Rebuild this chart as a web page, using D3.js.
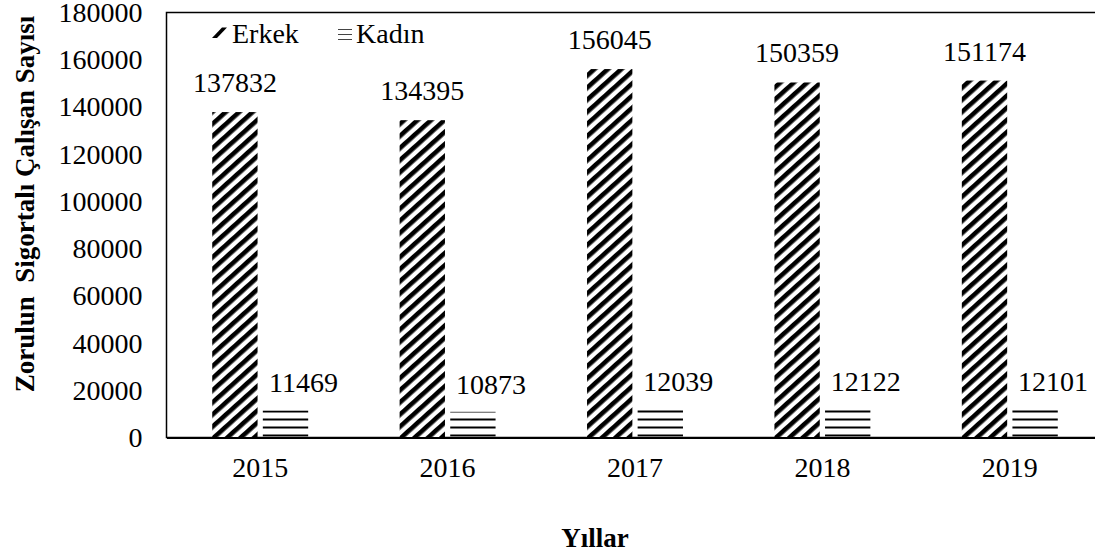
<!DOCTYPE html>
<html>
<head>
<meta charset="utf-8">
<script src="https://cdn.jsdelivr.net/npm/d3@7"></script>
<style>
  body { margin: 0; background: #fff; }
  svg { display: block; }
  text { font-family: "Liberation Serif", "Times New Roman", serif; }
</style>
</head>
<body>
<svg id="chart"></svg>
<script>
const years = ["2015", "2016", "2017", "2018", "2019"];
const erkek = [137832, 134395, 156045, 150359, 151174];
const kadin = [11469, 10873, 12039, 12122, 12101];
const series = ["Erkek", "Kadın"];
const yTicks = [0, 20000, 40000, 60000, 80000, 100000, 120000, 140000, 160000, 180000];

const width = 1095;
const height = 556;
const plotLeft = 166.5, plotRight = 1103.5, plotTop = 12.5, plotBottom = 437.5;
const font = "Liberation Serif";

const data = years.map((y, i) => ({year: y, Erkek: erkek[i], "Kadın": kadin[i]}));

const svg = d3.select("#chart")
  .attr("width", width)
  .attr("height", height)
  .attr("font-family", font);

svg.append("rect").attr("width", width).attr("height", height).attr("fill", "#fff");

const defs = svg.append("defs");

// wide upward diagonal
const diag = defs.append("pattern")
  .attr("id", "diag")
  .attr("patternUnits", "userSpaceOnUse")
  .attr("width", 9)
  .attr("height", 9)
  .attr("patternTransform", "rotate(48)");
diag.append("rect").attr("width", 9).attr("height", 9).attr("fill", "#fff");
diag.append("rect").attr("x", 0).attr("width", 4.6).attr("height", 9).attr("fill", "#000");

// horizontal lines
const horiz = defs.append("pattern")
  .attr("id", "horiz")
  .attr("patternUnits", "userSpaceOnUse")
  .attr("width", 8)
  .attr("height", 8)
  .attr("y", 2.5);
horiz.append("rect").attr("width", 8).attr("height", 8).attr("fill", "#fff");
horiz.append("rect").attr("y", 0).attr("width", 8).attr("height", 2).attr("fill", "#000");

const fills = {"Erkek": "url(#diag)", "Kadın": "url(#horiz)"};

const x0 = d3.scaleBand()
  .domain(years)
  .range([plotLeft, plotRight])
  .paddingInner(0.488)
  .paddingOuter(0.244);

const x1 = d3.scaleBand()
  .domain(series)
  .range([0, x0.bandwidth()])
  .paddingInner(0.104);

const y = d3.scaleLinear()
  .domain([0, 180000])
  .range([plotBottom, plotTop]);

// frame
svg.append("rect")
  .attr("x", plotLeft)
  .attr("y", plotTop)
  .attr("width", plotRight - plotLeft)
  .attr("height", plotBottom - plotTop)
  .attr("fill", "none")
  .attr("stroke", "#000")
  .attr("stroke-width", 1.5);

// bars
const groups = svg.append("g")
  .selectAll("g")
  .data(data)
  .join("g")
  .attr("transform", d => `translate(${x0(d.year)},0)`);

groups.selectAll("rect")
  .data(d => series.map(s => ({key: s, value: d[s]})))
  .join("rect")
  .attr("x", d => x1(d.key))
  .attr("y", d => y(d.value))
  .attr("width", x1.bandwidth())
  .attr("height", d => y(0) - y(d.value))
  .attr("fill", d => fills[d.key]);

// value labels
groups.selectAll("text")
  .data(d => series.map(s => ({key: s, value: d[s]})))
  .join("text")
  .attr("x", d => x1(d.key) + x1.bandwidth() / 2 + (d.key === "Kadın" ? 18 : 0))
  .attr("y", d => y(d.value) - (d.key === "Kadın" ? 18 : 20))
  .attr("text-anchor", "middle")
  .attr("font-size", 28)
  .attr("font-family", font)
  .attr("fill", "#000")
  .text(d => d.value);

// axes
const yAxis = svg.append("g")
  .attr("transform", `translate(${plotLeft},0)`)
  .call(d3.axisLeft(y).tickValues(yTicks).tickSize(0).tickPadding(24).tickFormat(d3.format("d")));
yAxis.select(".domain").remove();
yAxis.selectAll("text").attr("font-size", 28).attr("font-family", font).attr("fill", "#000");

const xAxis = svg.append("g")
  .attr("transform", `translate(0,${plotBottom})`)
  .call(d3.axisBottom(x0).tickSize(0).tickPadding(20));
xAxis.select(".domain").attr("stroke", "#000").attr("stroke-width", 2);
xAxis.selectAll("text").attr("font-size", 28).attr("font-family", font).attr("fill", "#000");

// axis titles
svg.append("text")
  .attr("transform", "translate(34,204) rotate(-90)")
  .attr("text-anchor", "middle")
  .attr("font-weight", "bold")
  .attr("font-size", 27)
  .attr("font-family", font)
  .style("white-space", "pre")
  .text("Zorulun  Sigortalı Çalışan Sayısı");

svg.append("text")
  .attr("x", 595)
  .attr("y", 547)
  .attr("text-anchor", "middle")
  .attr("font-weight", "bold")
  .attr("font-size", 27)
  .attr("font-family", font)
  .text("Yıllar");

// legend
const legend = svg.append("g");

// Erkek swatch: a thick slash
legend.append("path")
  .attr("d", "M212,38 L222,27.5 L227,27.5 L217,38 Z")
  .attr("fill", "#000");

// Kadın swatch: three thin lines
[29.5, 34.5, 39.5].forEach(ly => {
  legend.append("line")
    .attr("x1", 338).attr("x2", 352)
    .attr("y1", ly).attr("y2", ly)
    .attr("stroke", "#444")
    .attr("stroke-width", 1);
});

legend.append("text")
  .attr("x", 232).attr("y", 43)
  .attr("font-size", 28).attr("font-family", font)
  .text(series[0]);
legend.append("text")
  .attr("x", 356).attr("y", 43)
  .attr("font-size", 28).attr("font-family", font)
  .text(series[1]);
</script>
</body>
</html>
